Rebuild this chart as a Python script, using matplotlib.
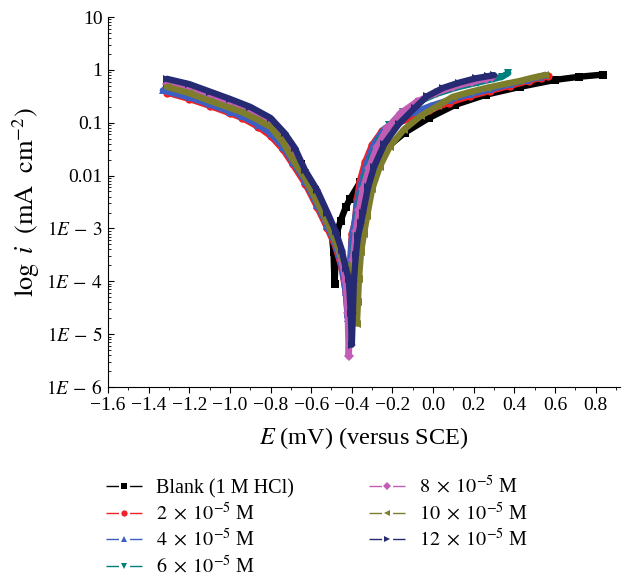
import numpy as np
import matplotlib
matplotlib.use("Agg")
import matplotlib.pyplot as plt
from matplotlib.lines import Line2D
from matplotlib.ticker import LogLocator, MultipleLocator, NullFormatter

plt.rcParams['font.family'] = ['Liberation Serif', 'DejaVu Serif']
plt.rcParams['mathtext.fontset'] = 'stix'
plt.rcParams['font.size'] = 14
plt.rcParams['axes.unicode_minus'] = True

# potential E (V vs SCE) and log i (mA cm^-2)
blank_E = [-1.31, -1.20, -1.10, -1.00, -0.90, -0.80, -0.72, -0.65, -0.58, -0.53, -0.50, -0.49, -0.485,
           -0.48, -0.475, -0.455, -0.43, -0.41, -0.36, -0.31, -0.24, -0.14, -0.02, 0.11, 0.26, 0.43, 0.60, 0.72, 0.835]
blank_logi = [-0.30, -0.40, -0.52, -0.64, -0.80, -1.05, -1.38, -1.78, -2.28, -2.72, -3.05, -3.45, -4.06,
              -3.60, -3.10, -2.85, -2.60, -2.45, -2.13, -1.85, -1.51, -1.19, -0.91, -0.66, -0.47, -0.32, -0.19, -0.13, -0.09]

red_E = [-1.31, -1.20, -1.10, -1.00, -0.94, -0.86, -0.80, -0.74, -0.69, -0.63, -0.57, -0.52, -0.48, -0.45, -0.43, -0.42,
         -0.41, -0.40, -0.385, -0.375, -0.36, -0.335, -0.30, -0.25, -0.18, -0.10, -0.02, 0.08, 0.18, 0.28, 0.38, 0.47, 0.53, 0.565]
red_logi = [-0.43, -0.55, -0.68, -0.82, -0.91, -1.08, -1.25, -1.50, -1.79, -2.15, -2.60, -3.00, -3.35, -3.75, -4.20, -4.60,
            -3.80, -3.10, -2.89, -2.45, -2.10, -1.75, -1.42, -1.15, -1.00, -0.92, -0.76, -0.62, -0.50, -0.40, -0.30, -0.21, -0.15, -0.11]

blue_E = [-1.33, -1.20, -1.10, -1.00, -0.94, -0.86, -0.80, -0.74, -0.69, -0.63, -0.57, -0.52, -0.48, -0.45, -0.43, -0.42,
          -0.41, -0.40, -0.385, -0.37, -0.35, -0.325, -0.29, -0.24, -0.17, -0.09, -0.01, 0.08, 0.18, 0.28, 0.38, 0.46, 0.52, 0.55]
blue_logi = [-0.39, -0.52, -0.65, -0.79, -0.88, -1.04, -1.20, -1.45, -1.74, -2.10, -2.55, -2.95, -3.30, -3.70, -4.20, -4.70,
             -3.90, -3.20, -2.85, -2.45, -2.10, -1.75, -1.40, -1.12, -0.92, -0.80, -0.68, -0.57, -0.46, -0.37, -0.27, -0.19, -0.14, -0.10]

teal_E = [-1.31, -1.20, -1.10, -1.00, -0.90, -0.80, -0.73, -0.68, -0.63, -0.57, -0.52, -0.48, -0.45, -0.43, -0.415, -0.41,
          -0.40, -0.39, -0.375, -0.36, -0.335, -0.305, -0.265, -0.215, -0.15, -0.07, 0.02, 0.12, 0.22, 0.30, 0.34, 0.37]
teal_logi = [-0.24, -0.35, -0.48, -0.62, -0.79, -1.00, -1.27, -1.56, -1.96, -2.38, -2.80, -3.15, -3.50, -3.85, -4.20, -4.50,
             -3.90, -3.30, -2.85, -2.45, -2.05, -1.70, -1.35, -1.05, -0.80, -0.60, -0.45, -0.33, -0.24, -0.17, -0.13, -0.06]

mag_E = [-1.31, -1.20, -1.10, -1.00, -0.90, -0.80, -0.73, -0.68, -0.63, -0.57, -0.52, -0.48, -0.45, -0.43, -0.42, -0.415,
         -0.405, -0.395, -0.38, -0.365, -0.345, -0.315, -0.275, -0.225, -0.16, -0.08, 0.01, 0.10, 0.19, 0.26, 0.29]
mag_logi = [-0.27, -0.37, -0.50, -0.64, -0.81, -1.02, -1.30, -1.60, -2.00, -2.42, -2.85, -3.20, -3.60, -4.00, -4.60, -5.42,
            -4.30, -3.60, -3.05, -2.65, -2.25, -1.85, -1.45, -1.10, -0.82, -0.60, -0.44, -0.32, -0.23, -0.17, -0.14]

olive_E = [-1.31, -1.20, -1.10, -1.00, -0.94, -0.86, -0.80, -0.74, -0.69, -0.63, -0.57, -0.52, -0.48, -0.45, -0.425, -0.40,
           -0.385, -0.375, -0.37, -0.365, -0.355, -0.34, -0.325, -0.30, -0.262, -0.213, -0.144, -0.06, 0.023, 0.097,
           0.18, 0.264, 0.35, 0.427, 0.50, 0.55]
olive_logi = [-0.32, -0.44, -0.585, -0.72, -0.80, -0.95, -1.08, -1.36, -1.70, -2.05, -2.50, -2.90, -3.25, -3.55, -3.72, -4.10,
              -4.45, -4.80, -4.40, -3.96, -3.45, -3.10, -2.77, -2.26, -1.83, -1.45, -1.13, -0.87, -0.68, -0.51,
              -0.42, -0.34, -0.27, -0.21, -0.14, -0.10]

navy_E = [-1.31, -1.20, -1.10, -1.00, -0.90, -0.80, -0.73, -0.68, -0.63, -0.57, -0.52, -0.48, -0.45, -0.43, -0.415, -0.405,
          -0.40, -0.395, -0.39, -0.38, -0.37, -0.355, -0.345, -0.32, -0.29, -0.24, -0.17, -0.09, -0.03, 0.05, 0.13, 0.21, 0.27, 0.30]
navy_logi = [-0.17, -0.27, -0.41, -0.55, -0.70, -0.91, -1.20, -1.48, -1.90, -2.28, -2.70, -3.05, -3.40, -3.75, -3.95, -4.60,
             -5.20, -4.60, -4.00, -3.50, -3.15, -2.90, -2.70, -2.22, -1.83, -1.40, -1.03, -0.72, -0.50, -0.34, -0.24, -0.16, -0.12, -0.10]

labels = ['Blank (1 M HCl)', r'$2\;\times\;10^{-5}$ M', r'$4\;\times\;10^{-5}$ M', r'$6\;\times\;10^{-5}$ M',
          r'$8\;\times\;10^{-5}$ M', r'$10\;\times\;10^{-5}$ M', r'$12\;\times\;10^{-5}$ M']
colors = ['#000000', '#ee2227', '#3d5fc4', '#00807c', '#c25cb4', '#7d7d2c', '#262a72']
markers = ['s', 'o', '^', 'v', 'D', '<', '>']
series = [(blank_E, blank_logi), (red_E, red_logi), (blue_E, blue_logi), (teal_E, teal_logi),
          (mag_E, mag_logi), (olive_E, olive_logi), (navy_E, navy_logi)]

fig = plt.figure(figsize=(6.29, 5.79), dpi=100)
ax = fig.add_axes([108 / 629, 192 / 579, 512 / 629, 370 / 579])

for (E, li), c, m in zip(series, colors, markers):
    ms = 5 if m == 'D' else 6
    ax.plot(E, 10 ** np.array(li), color=c, lw=4.6, marker=m, ms=ms, mew=0,
            solid_joinstyle='round', solid_capstyle='round')

ax.set_yscale('log')
ax.set_ylim(1e-6, 10)
ax.set_xlim(-1.6, 0.92)

ax.set_yticks([1e-6, 1e-5, 1e-4, 1e-3, 1e-2, 1e-1, 1, 10])
ax.set_yticklabels([r'$1E\,-\,6$', r'$1E\,-\,5$', r'$1E\,-\,4$', r'$1E\,-\,3$', '0.01', '0.1', '1', '10'],
                   fontsize=14)
ax.yaxis.set_minor_locator(LogLocator(base=10, subs=np.arange(2, 10)))
ax.yaxis.set_minor_formatter(NullFormatter())
ax.tick_params(axis='y', which='major', direction='in', length=4, width=0.8, pad=4)
ax.tick_params(axis='y', which='minor', direction='in', length=2.5, width=0.6)

ax.xaxis.set_major_locator(MultipleLocator(0.2))
ax.xaxis.set_minor_locator(MultipleLocator(0.1))
ax.xaxis.set_major_formatter(lambda v, p: f'{v:.1f}'.replace('-', '\u2212') if abs(v) > 1e-9 else '0.0')
ax.tick_params(axis='x', which='major', direction='out', length=4, width=0.8, labelsize=14, pad=3)
ax.tick_params(axis='x', which='minor', direction='out', length=2.5, width=0.6)

for s in ['top', 'right']:
    ax.spines[s].set_visible(False)

ax.set_xlabel(r'$E$ (mV) (versus SCE)', fontsize=17.5, labelpad=8)
ax.set_ylabel(r'$\log\ i\ \ (\mathrm{mA\ \ cm}^{-2})$', fontsize=19, labelpad=3)

handles = [Line2D([], [], color=c, lw=1.0, ls=(0, (9, 8)), marker=m, ms=4.5, mew=0)
           for c, m in zip(colors, markers)]
fig.legend(handles, labels, ncol=2, loc='upper left', bbox_to_anchor=(92 / 629, 1 - 462 / 579),
           frameon=False, fontsize=14.5, handlelength=1.8, handletextpad=0.7,
           columnspacing=3.7, labelspacing=0.22, borderpad=0.2)

fig.savefig('out.png', dpi=100)
